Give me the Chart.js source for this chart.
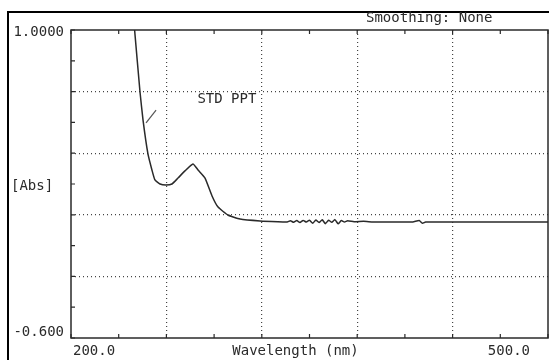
<!DOCTYPE html>
<html><head><meta charset="utf-8">
<script src="https://cdn.jsdelivr.net/npm/chart.js@4"></script>
<style>html,body{margin:0;padding:0;background:#fff}canvas{display:block}</style>
</head><body>
<canvas id="c" width="549" height="360"></canvas>
<script>
// Wavelength (nm) and absorbance
const wavelength = [240,243.4,245.3,248.4,250.9,252.8,256,259.7,263.5,267.3,271.7,276.7,279.9,284.3,288.7,292.5,298.7,306.3,318.9,330,336,338,340,342,344,346,348,350,352,354,356,358,360,362,364,366,368,370,372,374,378,384,390,400,415,419,421,423,430,457,480,500];
const absorbance = [1.0,0.678,0.532,0.356,0.273,0.221,0.200,0.195,0.200,0.231,0.268,0.304,0.273,0.231,0.138,0.080,0.039,0.018,0.008,0.004,0.003,0.009,0.001,0.010,0.000,0.011,0.002,0.012,-0.004,0.013,0.000,0.014,-0.006,0.012,0.001,0.015,-0.007,0.010,0.002,0.009,0.004,0.006,0.003,0.003,0.003,0.010,-0.004,0.003,0.002,0.002,0.002,0.002];
const pointerWl = [247.2,253.5];
const pointerAbs = [0.517,0.584];
const xMin = 200, xMax = 500, yMin = -0.6, yMax = 1.0;
const yLabels = ['1.0000','-0.600'];
const xLabels = ['200.0','500.0'];
const xTitle = 'Wavelength (nm)';
const yTitle = '[Abs]';
const noteText = 'STD PPT';
const headerText = 'Smoothing: None';

const ink = '#2a2a2a';
const font = '14px "DejaVu Sans Mono", "Liberation Mono", monospace';

const deco = {
  id:'deco',
  beforeDraw(chart){
    const c=chart.ctx;
    c.save(); c.fillStyle='#fff'; c.fillRect(0,0,chart.width,chart.height); c.restore();
  },
  afterDraw(chart){
    const c=chart.ctx, a=chart.chartArea, xs=chart.scales.x, ys=chart.scales.y;
    c.save();
    // outer frame
    c.strokeStyle='#000'; c.lineWidth=2;
    c.beginPath(); c.moveTo(8,360); c.lineTo(8,12); c.lineTo(549,12); c.stroke();
    // plot box
    c.strokeStyle=ink; c.lineWidth=1.5;
    c.strokeRect(a.left,a.top,a.right-a.left,a.bottom-a.top);
    // inward ticks
    c.lineWidth=1.2;
    c.beginPath();
    xs.ticks.forEach(t=>{const p=xs.getPixelForValue(t.value);
      c.moveTo(p,a.bottom); c.lineTo(p,a.bottom-4);
      c.moveTo(p,a.top); c.lineTo(p,a.top+4);});
    ys.ticks.forEach(t=>{const p=ys.getPixelForValue(t.value);
      c.moveTo(a.left,p); c.lineTo(a.left+4,p);});
    c.stroke();
    // texts
    c.fillStyle=ink; c.font=font; c.textBaseline='middle';
    c.textAlign='right';
    c.fillText(yLabels[0], a.left-7, ys.getPixelForValue(yMax)+2);
    c.fillText(yLabels[1], a.left-7, ys.getPixelForValue(yMin)-6);
    c.textAlign='left';
    c.fillText(yTitle, 11, (a.top+a.bottom)/2+2);
    c.fillText(xLabels[0], xs.getPixelForValue(xMin)+2, a.bottom+13);
    c.textAlign='right';
    c.fillText(xLabels[1], xs.getPixelForValue(xMax)-18, a.bottom+13);
    c.textAlign='center';
    c.fillText(xTitle, (xs.getPixelForValue(xMin)+xs.getPixelForValue(xMax))/2-14, a.bottom+13);
    c.textAlign='left';
    c.fillText(headerText, 366, 18);
    c.fillText(noteText, xs.getPixelForValue(279.5), ys.getPixelForValue(0.64));
    c.restore();
  }
};

const gridColor = ctx=>(ctx.index%2===0&&ctx.index>0&&ctx.index<10)?'#444':'rgba(0,0,0,0)';

new Chart(document.getElementById('c'),{
  type:'scatter',
  data:{datasets:[
    {data:wavelength.map((w,i)=>({x:w,y:absorbance[i]})),showLine:true,borderColor:ink,borderWidth:1.5,pointRadius:0,tension:0.15,clip:0},
    {data:pointerWl.map((w,i)=>({x:w,y:pointerAbs[i]})),showLine:true,borderColor:'#555',borderWidth:1.2,pointRadius:0}
  ]},
  options:{
    responsive:false,animation:false,
    layout:{padding:{left:71,top:30,right:1,bottom:22}},
    plugins:{legend:{display:false},tooltip:{enabled:false},title:{display:false}},
    scales:{
      x:{type:'linear',min:xMin,max:xMax,
        ticks:{display:false,stepSize:30},
        border:{display:false,dash:[1,3]},
        grid:{drawTicks:false,lineWidth:1.2,color:gridColor},
        afterFit:s=>{s.height=0;}},
      y:{type:'linear',min:yMin,max:yMax,
        ticks:{display:false,count:11},
        border:{display:false,dash:[1,3]},
        grid:{drawTicks:false,lineWidth:1.2,color:gridColor},
        afterFit:s=>{s.width=0;}}
    }
  },
  plugins:[deco]
});
</script>
</body></html>
